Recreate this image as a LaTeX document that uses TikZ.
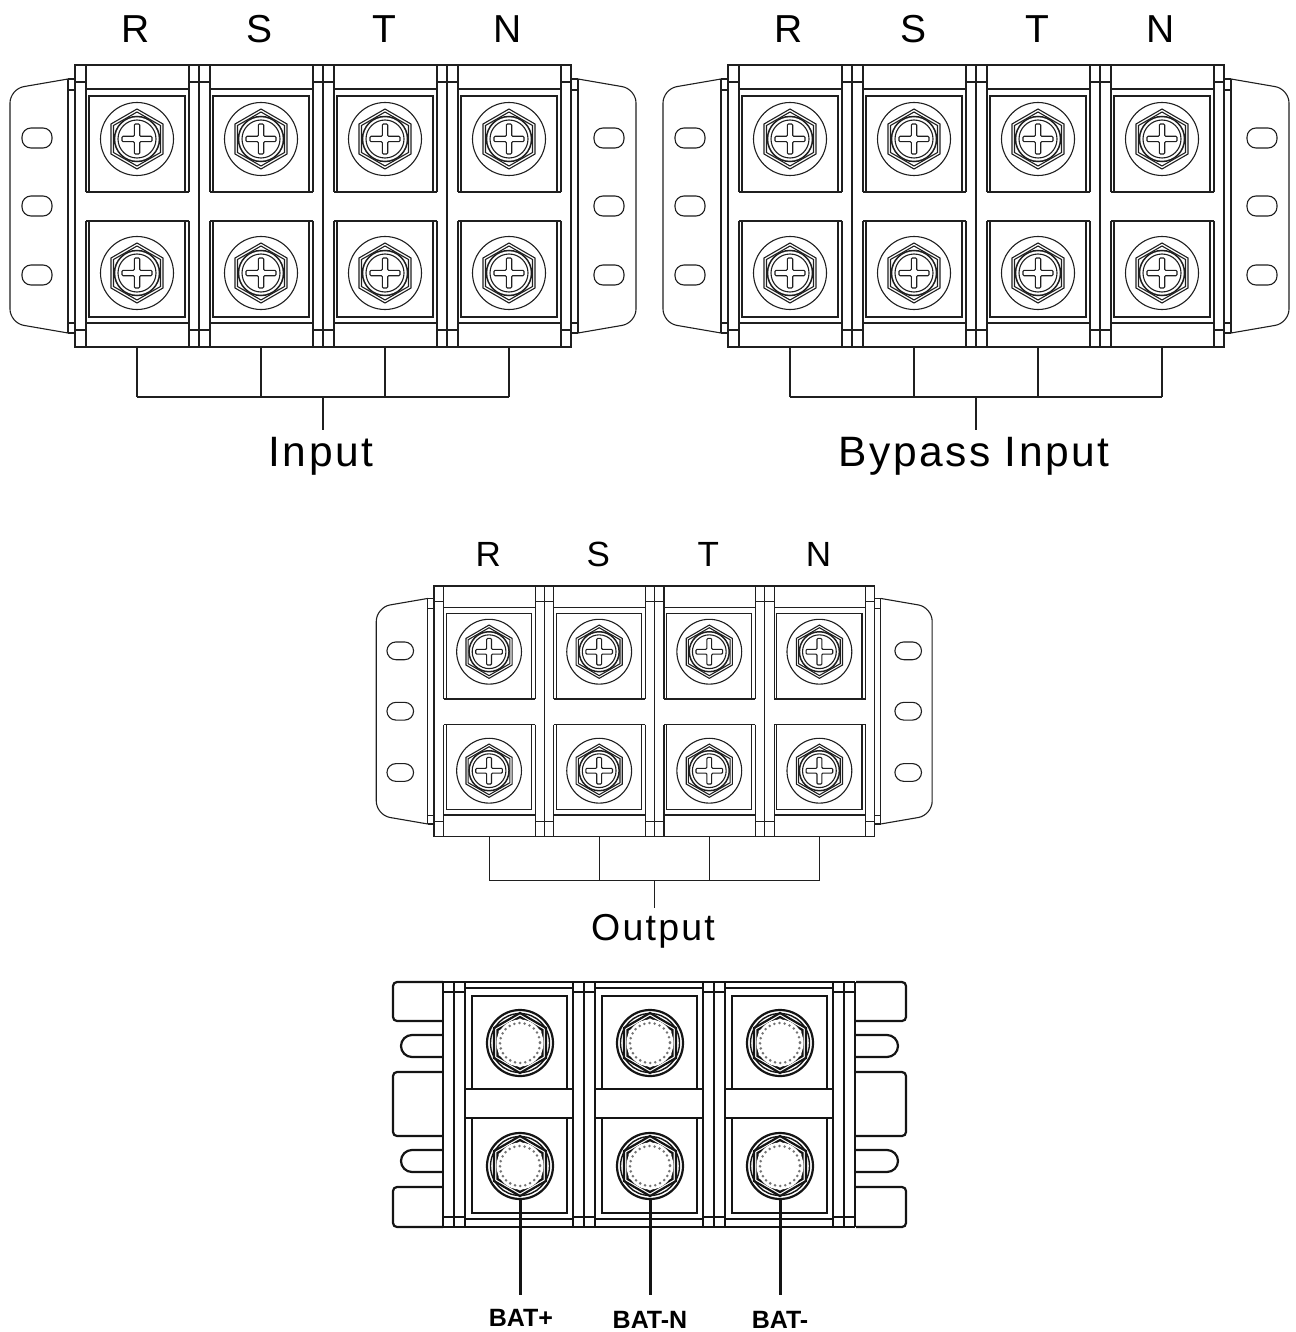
\documentclass[tikz,border=0pt]{standalone}
\usepackage{fontspec}
\setmainfont{Liberation Sans}
\usetikzlibrary{positioning}
\newfontfamily\spacedfont[LetterSpace=6]{Liberation Sans}
\tikzset{x=1pt,y=-1pt,
	blockline/.style={line width=1.1pt, black!88},
	heavyline/.style={line width=1.5pt, black!88},
	batline/.style={line width=2.2pt, black!92},
	phasebig/.style={font=\fontsize{39}{39}\selectfont, inner sep=0pt},
	phasesmall/.style={font=\fontsize{35}{35}\selectfont, inner sep=0pt},
	groupbig/.style={font=\spacedfont\fontsize{42.5}{42.5}\selectfont, inner sep=0pt, anchor=center},
	groupsmall/.style={font=\spacedfont\fontsize{37.5}{37.5}\selectfont, inner sep=0pt, anchor=center},
	batlabel/.style={font=\bfseries\fontsize{25}{25}\selectfont, inner sep=0pt}
}
\newcommand*{\screwbolt}[1]{% centre
	\draw[blockline] (#1) circle (36.5);
	\draw[blockline, shift={(#1)}] (0,-30) -- (26,-15) -- (26,15) -- (0,30) -- (-26,15) -- (-26,-15) -- cycle;
	\draw[blockline, shift={(#1)}] (0,-27) -- (23.5,-13.5) -- (23.5,13.5) -- (0,27) -- (-23.5,13.5) -- (-23.5,-13.5) -- cycle;
	\draw[heavyline, fill=white] (#1) circle (22.5);
	\draw[blockline] (#1) circle (19);
	\draw[blockline, shift={(#1)}, rounded corners=1pt] (-2.7,-15) -- (2.7,-15) -- (2.7,-2.7) -- (15,-2.7) -- (15,2.7) -- (2.7,2.7) -- (2.7,15) -- (-2.7,15) -- (-2.7,2.7) -- (-15,2.7) -- (-15,-2.7) -- (-2.7,-2.7) -- cycle;
}
\newcommand*{\blockwing}{%
	\draw[blockline, rounded corners=14pt] (-7,14) -- (-65,24) -- (-65,258) -- (-7,268);
	\draw[blockline] (-7,14) -- (-7,268) (-7,14) -- (0,14) (-7,25) -- (0,25) (-7,258) -- (0,258) (-7,268) -- (0,268);
	\foreach \ys in {73,141,210}
		\draw[blockline, rounded corners=9pt] (-53,\ys-10) rectangle (-23,\ys+10);
}
\newcommand*{\termblock}[5]{% name, x, y, scale, label style
	\begin{scope}[shift={(#2,#3)},scale=#4]
		\draw[blockline] (0,0) rectangle (496,282);
		\blockwing
		\begin{scope}[xshift=496pt,xscale=-1]
			\blockwing
		\end{scope}
		\foreach \i/\ph in {0/R,1/S,2/T,3/N} {
			\begin{scope}[xshift=124pt*\i]
				\draw[blockline] (11,0) -- (11,127) (114,0) -- (114,127) (11,156) -- (11,282) (114,156) -- (114,282);
				\draw[blockline] (0,17) -- (11,17) (114,17) -- (124,17) (0,265) -- (11,265) (114,265) -- (124,265);
				\draw[heavyline] (11,24) -- (114,24) (11,127) -- (114,127) (11,156) -- (114,156) (11,258) -- (114,258);
				\draw[blockline] (14,127) -- (14,31) -- (110,31) -- (110,127);
				\draw[blockline] (14,156) -- (14,252) -- (110,252) -- (110,156);
			\end{scope}
			\coordinate (#1-u\i) at (62+124*\i,74);
			\coordinate (#1-d\i) at (62+124*\i,208);
			\screwbolt{#1-u\i}
			\screwbolt{#1-d\i}
			\coordinate (#1-s\i) at (62+124*\i,282);
			\coordinate (#1-t\i) at (62+124*\i,332);
			\node[#5] (#1-\ph) at (61+124*\i,-36) {\ph};
			\draw[blockline] (#1-s\i) -- (#1-t\i);
		}
		\foreach \i in {1,2,3}
			\draw[blockline] (124*\i,0) -- (124*\i,282);
		\draw[blockline] (#1-t0) -- (#1-t3);
		\coordinate (#1-mid) at (248,332);
	\end{scope}
}
\begin{document}
\begin{tikzpicture}
	\useasboundingbox (0,0) rectangle (1295,1332);
	\termblock{in}{75}{65}{1}{phasebig}
	\termblock{by}{728}{65}{1}{phasebig}
	\termblock{out}{434}{586}{0.888}{phasesmall}
	\node[groupbig] (in-name) at (321,456) {Input};
	\node[groupbig] (by-name) at (974,456) {Bypass Input};
	\node[groupsmall] (out-name) at (653,931) {Output};
	\draw[blockline] (in-mid) -- (in-mid |- 0,430);
	\draw[blockline] (by-mid) -- (by-mid |- 0,430);
	\draw[blockline] (out-mid) -- (out-mid |- 0,908);
	% battery block
	\draw[batline] (443,982) -- (855,982) (443,1227) -- (855,1227);
	\foreach \x in {443,454,465,573,584,595,703,714,725,833,844,855}
		\draw[batline] (\x,982) -- (\x,1227);
	\foreach \mx/\sx in {393/1,906/-1} {
		\begin{scope}[shift={(\mx,0)},xscale=\sx]
			\draw[batline, rounded corners=4pt] (50,982) -- (0,982) -- (0,1021) -- (50,1021);
			\draw[batline, rounded corners=4pt] (50,1072) -- (0,1072) -- (0,1136) -- (50,1136);
			\draw[batline, rounded corners=4pt] (50,1187) -- (0,1187) -- (0,1227) -- (50,1227);
			\draw[batline] (50,1035) -- (19,1035) arc[start angle=270,end angle=90,radius=11] -- (50,1057);
			\draw[batline] (50,1150) -- (19,1150) arc[start angle=270,end angle=90,radius=11] -- (50,1172);
			\draw[batline] (50,992) -- (72,992) (50,1217) -- (72,1217);
		\end{scope}
	}
	\foreach \i/\bl in {0/BAT+,1/BAT-N,2/BAT-} {
		\begin{scope}[shift={(130*\i,0)}]
			\draw[batline] (465,988) -- (573,988) (465,1219) -- (573,1219);
			\draw[batline] (573,992) -- (595,992) (573,1217) -- (595,1217);
			\draw[batline] (472,1089) -- (472,996) -- (567,996) -- (567,1089);
			\draw[batline] (472,1118) -- (472,1213) -- (567,1213) -- (567,1118);
			\fill[white] (466,1090) rectangle (572,1117);
			\draw[batline] (465,1089) -- (573,1089) (465,1118) -- (573,1118);
			\coordinate (bat-u\i) at (520,1043);
			\coordinate (bat-d\i) at (520,1166);
			\foreach \c in {bat-u\i,bat-d\i} {
				\draw[batline] (\c) circle (33);
				\draw[batline, line width=1.4pt] (\c) circle (29.5);
				\draw[batline, shift={(\c)}] (0,-30) -- (26,-15) -- (26,15) -- (0,30) -- (-26,15) -- (-26,-15) -- cycle;
				\draw[batline, shift={(\c)}] (0,-26) -- (22.5,-13) -- (22.5,13) -- (0,26) -- (-22.5,13) -- (-22.5,-13) -- cycle;
				\fill[white] (\c) circle (23.5);
				\draw[black!55, line width=2.8pt, line cap=round, dash pattern=on 0pt off 5.2pt] (\c) circle (20);
			}
		\end{scope}
	}
	\node[batlabel] (bat-plus) at (521,1318) {BAT+};
	\node[batlabel] (bat-n) at (650,1320) {BAT-N};
	\node[batlabel] (bat-minus) at (780,1320) {BAT-};
	\draw[batline, line width=3pt] (bat-d0) ++(0,33) -- (bat-d0 |- 0,1295);
	\draw[batline, line width=3pt] (bat-d1) ++(0,33) -- (bat-d1 |- 0,1295);
	\draw[batline, line width=3pt] (bat-d2) ++(0,33) -- (bat-d2 |- 0,1295);
\end{tikzpicture}
\end{document}
